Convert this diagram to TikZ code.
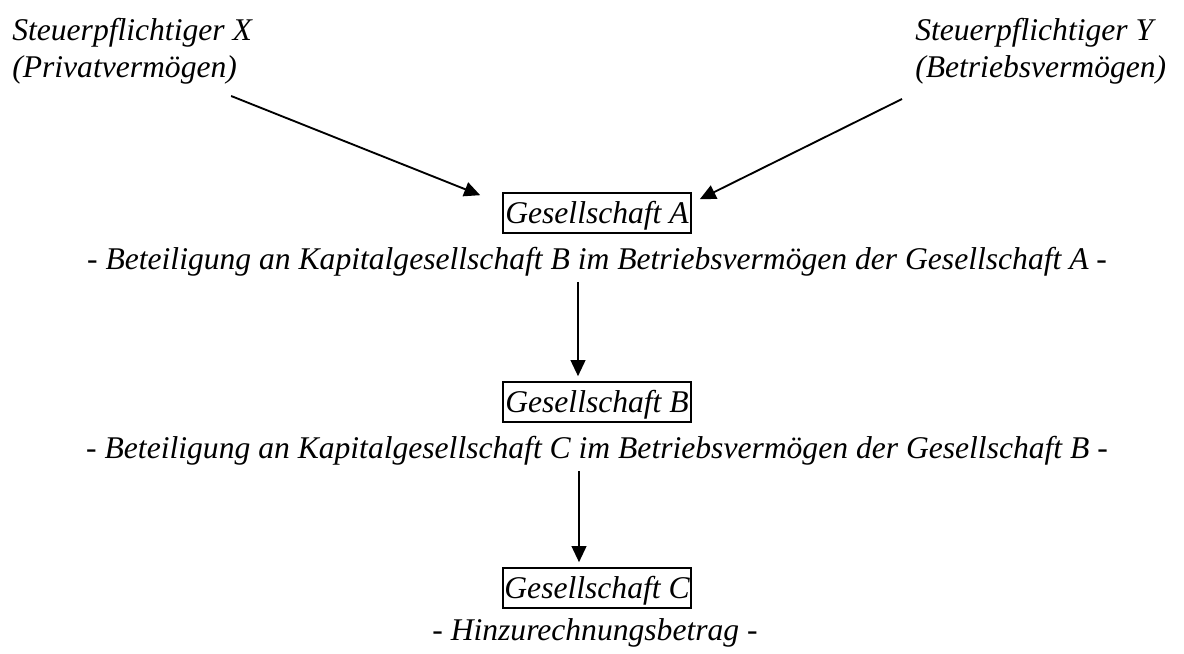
\documentclass[tikz,border=0pt]{standalone}
\usepackage{fontspec}
\setmainfont{Liberation Serif}
\usetikzlibrary{arrows.meta}
\begin{document}
\begin{tikzpicture}[x=0.75pt,y=-0.75pt,
  every node/.style={inner sep=0pt,font=\fontsize{23.7}{27.2}\selectfont\itshape},
  label/.style={align=left,anchor=base west},
  line/.style={anchor=base},
  firm/.style={draw,line width=1.2pt,anchor=base,minimum width=141pt,
    text height=22.5pt,text depth=7.5pt,inner sep=0pt},
  conn/.style={line width=1.4pt,-{Triangle[length=12pt,width=11pt]}}]
\useasboundingbox (0,0) rectangle (1184,653);

\node[label] (X) at (12,77) {Steuerpflichtiger X\\(Privatvermögen)};
\node[label] (Y) at (915,77) {Steuerpflichtiger Y\\(Betriebsvermögen)};

\node[firm] (A) at (597,223) {Gesellschaft A};
\node[line] (L1) at (597,269) {- Beteiligung an Kapitalgesellschaft B im Betriebsvermögen der Gesellschaft A -};
\node[firm] (B) at (597,412) {Gesellschaft B};
\node[line] (L2) at (597,458) {- Beteiligung an Kapitalgesellschaft C im Betriebsvermögen der Gesellschaft B -};
\node[firm] (C) at (597,598) {Gesellschaft C};
\node[line] (L3) at (595,640) {- Hinzurechnungsbetrag -};

\draw[conn] ([shift={(-21,12)}]X.south east) -- ([shift={(-22,3)}]A.north west);
\draw[conn] ([shift={(-13,15)}]Y.south west) -- ([shift={(8,7)}]A.north east);
\draw[conn] ([shift={(-19,6)}]L1.south) -- ([shift={(-19,-5)}]B.north);
\draw[conn] ([shift={(-18,6)}]L2.south) -- ([shift={(-18,-5)}]C.north);
\end{tikzpicture}
\end{document}
